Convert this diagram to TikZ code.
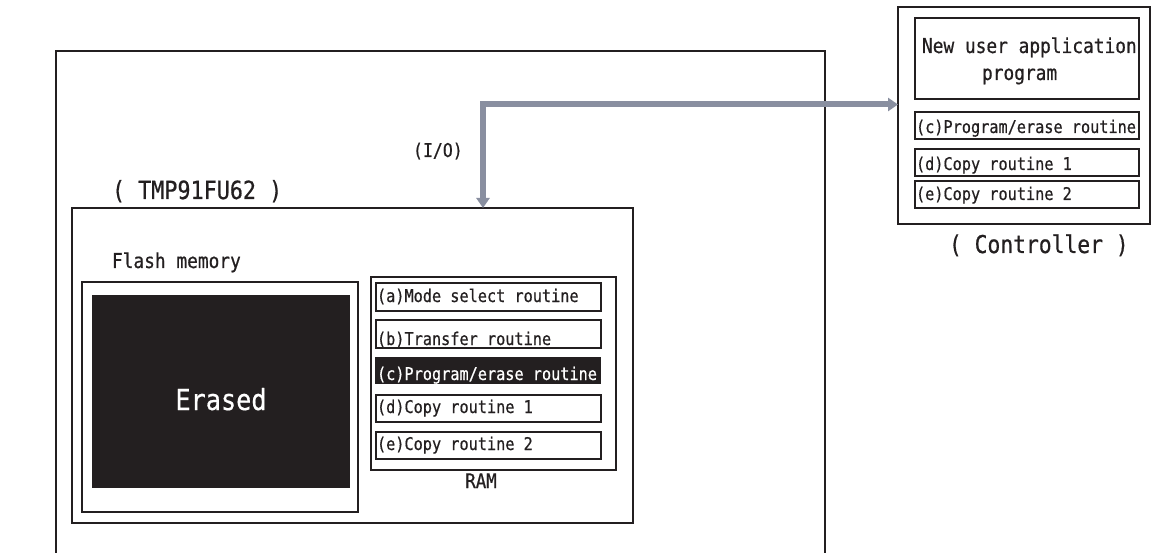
\documentclass[tikz,border=0pt]{standalone}
\usepackage{fontspec}
\usetikzlibrary{arrows.meta}
\newfontfamily\gf[FakeStretch=0.87,FakeBold=0.6]{DejaVu Sans Mono}
\definecolor{ink}{HTML}{231F20}
\definecolor{bus}{HTML}{898FA0}
\tikzset{
  boxed/.style={draw=ink, anchor=north west, inner sep=0pt, outer sep=0pt, line width=#1},
  boxed/.default=2pt,
  lbl/.style={anchor=base west, inner sep=0pt, outer sep=0pt, text=ink, font={\gf\fontsize{#1}{#1}\selectfont}},
  lblc/.style={lbl=#1, anchor=base},
  busarrow/.style={draw=bus, line width=6pt, {Triangle[width=13pt,length=10pt]}-{Triangle[width=13pt,length=10pt]}}
}
\begin{document}
\begin{tikzpicture}[x=1pt,y=-1pt]
\useasboundingbox (0,0) rectangle (1151,553);
\clip (0,0) rectangle (1151,553);
\fill[white] (0,0) rectangle (1151,553);

% chip outline (runs past the bottom edge)
\node[boxed=2.2pt, minimum width=769, minimum height=520] (chip) at (56,51) {};
\node[lbl=25] (tmpl) at (112,199) {( TMP91FU62 )};
\node[lbl=19] (io) at (413,157) {(I/O)};

% inner block
\node[boxed=1.8pt, minimum width=561, minimum height=315] (mcu) at (72,208) {};
\node[lbl=20.5] (flashl) at (112,268) {Flash memory};

% flash memory
\node[boxed=2.2pt, minimum width=276, minimum height=230] (flash) at (82,282) {};
\node[anchor=north west, inner sep=0pt, outer sep=0pt, fill=ink, minimum width=258, minimum height=193] (erase) at (92,295) {};
\node[lblc=29, text=white] (erasedl) at (221,410) {Erased};

% RAM
\node[boxed=1.8pt, minimum width=245, minimum height=193] (ram) at (371,277) {};
\node[boxed=2pt, minimum width=225, minimum height=28] (ra) at (376,283) {};
\node[boxed=2pt, minimum width=225, minimum height=28] (rb) at (376,320) {};
\node[anchor=north west, inner sep=0pt, outer sep=0pt, fill=ink, minimum width=226, minimum height=27] (rc) at (375,357) {};
\node[boxed=2pt, minimum width=225, minimum height=27] (rd) at (376,395) {};
\node[boxed=2pt, minimum width=225, minimum height=27] (re) at (376,432) {};
\node[lbl=17.5] (ral) at (377,302) {(a)Mode select routine};
\node[lbl=17.5] (rbl) at (377,345) {(b)Transfer routine};
\node[lbl=17.5, text=white] (rcl) at (377,380) {(c)Program/erase routine};
\node[lbl=17.5] (rdl) at (377,413) {(d)Copy routine 1};
\node[lbl=17.5] (rel) at (377,450) {(e)Copy routine 2};
\node[lblc=20] (raml) at (481,488) {RAM};

% controller
\node[boxed=2.4pt, minimum width=252, minimum height=217] (ctrl) at (898,7) {};
\node[boxed=1.3pt, minimum width=224, minimum height=81] (nu) at (915,18) {};
\node[boxed=2pt, minimum width=224, minimum height=27] (cc) at (915,112) {};
\node[boxed=2pt, minimum width=224, minimum height=27] (cd) at (915,149) {};
\node[boxed=2pt, minimum width=224, minimum height=27] (ce) at (915,181) {};
\node[lbl=20.5] (nul1) at (922,53) {New user application};
\node[lbl=20.5] (nul2) at (982,80) {program};
\node[lbl=17.5] (ccl) at (916,133) {(c)Program/erase routine};
\node[lbl=17.5] (cdl) at (916,170) {(d)Copy routine 1};
\node[lbl=17.5] (cel) at (916,200) {(e)Copy routine 2};
\node[lbl=24.5] (ctrll) at (949,253) {( Controller )};

% I/O bus
\coordinate (bend) at (483,104.5);
\draw[busarrow] (mcu.north -| bend) -- (bend) -- (ctrl.west |- bend);
\end{tikzpicture}
\end{document}
